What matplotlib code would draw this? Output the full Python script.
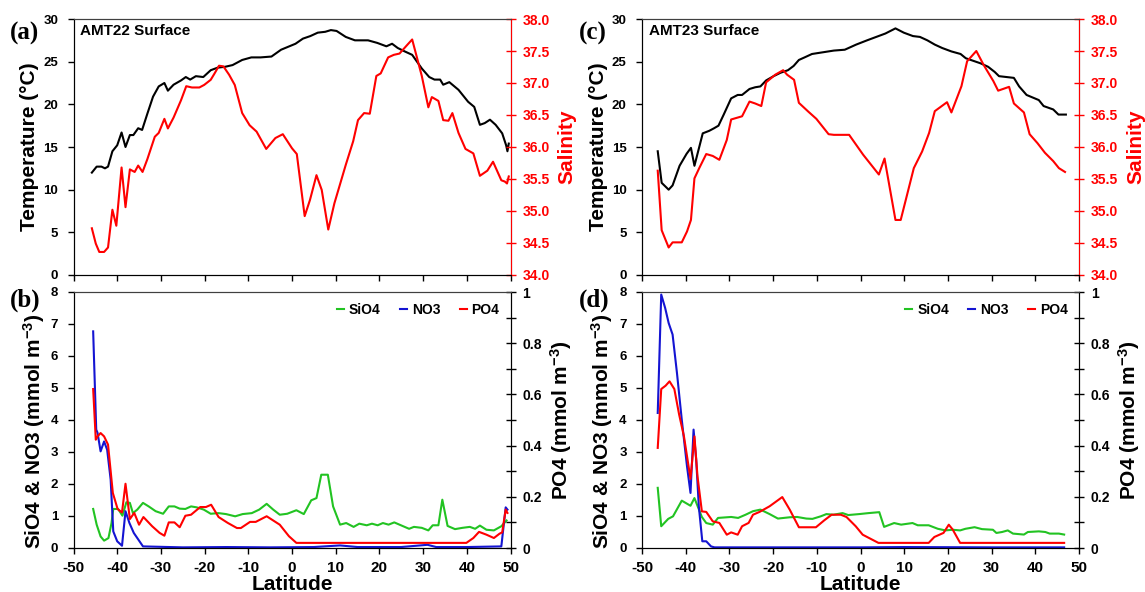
import matplotlib
matplotlib.use("Agg")
import matplotlib.pyplot as plt
from matplotlib.ticker import MultipleLocator, FormatStrFormatter

plt.rcParams['font.family'] = ['Liberation Sans', 'DejaVu Sans']
plt.rcParams['font.weight'] = 'bold'
plt.rcParams['mathtext.fontset'] = 'custom'
plt.rcParams['mathtext.rm'] = 'Liberation Sans:bold'
plt.rcParams['mathtext.default'] = 'rm'
plt.rcParams['axes.unicode_minus'] = False

RED = '#ff0000'
GREEN = '#22c322'
BLUE = '#1414d2'

# ---- AMT22 surface: temperature / salinity ----
lat22_t = [-45.8, -44.7, -43.6, -42.8, -42.1, -41.1, -40.0, -39.0, -38.1, -37.1, -36.3, -35.2, -34.3,
           -33.1, -31.8, -30.5, -29.2, -28.4, -27.1, -25.4, -24.3, -23.3, -22.0, -20.3, -18.6, -17.0,
           -15.3, -13.6, -11.4, -9.3, -7.2, -4.7, -2.5, 0.8, 2.5, 4.2, 5.9, 7.6, 8.9, 10.2, 12.3, 14.4,
           17.4, 19.5, 21.6, 22.9, 24.2, 25.8, 27.5, 29.7, 31.4, 32.6, 33.9, 34.6, 36.0, 38.1, 40.3,
           41.7, 43.0, 44.1, 45.3, 46.6, 48.1, 49.0, 49.3, 49.6]
temp22 = [12.0, 12.7, 12.7, 12.5, 12.7, 14.5, 15.2, 16.7, 15.0, 16.4, 16.4, 17.2, 17.0,
          18.9, 20.9, 22.1, 22.5, 21.6, 22.3, 22.8, 23.2, 22.9, 23.3, 23.2, 24.0, 24.3,
          24.4, 24.6, 25.2, 25.5, 25.5, 25.6, 26.4, 27.1, 27.7, 28.0, 28.4, 28.5, 28.7, 28.6, 27.9, 27.5,
          27.5, 27.2, 26.8, 27.1, 26.6, 26.2, 25.8, 24.2, 23.2, 22.9, 22.9, 22.3, 22.6, 21.7, 20.3,
          19.7, 17.6, 17.8, 18.2, 17.6, 16.6, 15.2, 14.5, 15.4]

lat22_s = [-45.8, -44.9, -44.1, -43.0, -42.1, -41.1, -40.2, -39.0, -38.1, -37.1, -36.0, -35.2, -34.2,
           -33.1, -31.4, -30.5, -29.2, -28.4, -27.1, -25.4, -24.2, -22.9, -21.2, -20.1, -18.6, -17.8,
           -16.7, -15.7, -14.4, -13.1, -11.4, -9.7, -8.1, -5.9, -3.8, -2.1, 0.0, 1.1, 2.9, 4.1, 5.6,
           6.8, 8.3, 9.7, 12.3, 14.0, 15.1, 16.5, 17.8, 19.3, 20.3, 22.0, 23.3, 24.6, 26.3, 27.5,
           29.7, 31.2, 32.0, 33.5, 34.6, 35.8, 36.7, 38.1, 39.7, 41.5, 43.0, 44.7, 46.0, 47.9, 48.7,
           49.2, 49.6]
sal22 = [34.73, 34.49, 34.36, 34.36, 34.43, 35.02, 34.77, 35.68, 35.06, 35.65, 35.61, 35.71, 35.61,
         35.81, 36.16, 36.22, 36.44, 36.29, 36.46, 36.73, 36.95, 36.93, 36.93, 36.97, 37.05, 37.14,
         37.27, 37.26, 37.13, 36.97, 36.53, 36.34, 36.24, 35.97, 36.14, 36.20, 35.98, 35.89, 34.92, 35.17, 35.56,
         35.33, 34.71, 35.12, 35.72, 36.09, 36.42, 36.53, 36.52, 37.11, 37.15, 37.40, 37.44, 37.46, 37.59, 37.68,
         37.11, 36.62, 36.78, 36.72, 36.42, 36.41, 36.53, 36.22, 35.97, 35.90, 35.55, 35.63, 35.77, 35.48, 35.46,
         35.43, 35.54]

# ---- AMT22 surface: nutrients ----
lat22_no3 = [-45.5, -44.8, -44.5, -43.8, -43.0, -42.3, -41.5, -40.9, -40.0, -38.9, -38.1, -37.2, -36.2,
             -34.1, -25.0, -15.0, -5.0, 5.0, 11.0, 15.0, 25.0, 31.0, 33.0, 40.0, 47.9, 48.9, 49.3]
no3_22 = [6.77, 3.70, 3.60, 3.02, 3.33, 3.07, 2.14, 0.52, 0.21, 0.07, 1.15, 0.78, 0.47,
          0.05, 0.02, 0.03, 0.02, 0.03, 0.08, 0.03, 0.03, 0.10, 0.03, 0.03, 0.05, 1.27, 1.20]

lat22_po4 = [-45.5, -44.9, -44.5, -43.8, -43.0, -42.1, -41.0, -39.9, -38.9, -38.1, -37.1, -36.1, -35.0,
             -34.0, -32.0, -30.3, -29.2, -28.2, -26.9, -25.7, -24.4, -23.1, -21.0, -19.7, -18.5, -16.8,
             -14.7, -12.6, -11.7, -9.6, -8.3, -5.8, -2.8, -0.7, 1.0, 39.9, 41.5, 42.8, 44.5, 46.2,
             47.5, 48.1, 48.9, 49.3]
po4_22 = [0.621, 0.423, 0.436, 0.449, 0.436, 0.404, 0.215, 0.152, 0.139, 0.251, 0.113, 0.137, 0.091,
          0.121, 0.085, 0.059, 0.048, 0.100, 0.100, 0.081, 0.126, 0.130, 0.160, 0.160, 0.169, 0.121,
          0.098, 0.078, 0.078, 0.102, 0.102, 0.124, 0.091, 0.046, 0.020, 0.020, 0.039, 0.063, 0.052, 0.039,
          0.056, 0.061, 0.150, 0.137]

lat22_si = [-45.5, -44.7, -43.8, -43.0, -42.0, -41.3, -40.9, -39.8, -38.8, -37.9, -37.1, -36.4, -35.4,
            -34.1, -32.8, -31.2, -29.5, -28.2, -26.9, -25.7, -24.4, -23.1, -21.8, -20.2, -18.6, -16.8,
            -15.1, -13.0, -11.3, -9.2, -7.5, -5.8, -4.3, -2.8, -1.1, 1.0, 2.7, 4.4, 5.6, 6.7, 8.2,
            9.4, 11.0, 12.4, 14.1, 15.4, 17.1, 18.3, 19.6, 20.8, 22.1, 23.4, 25.1, 26.8, 27.9, 29.7,
            31.2, 32.2, 33.5, 34.4, 35.6, 37.3, 39.0, 40.7, 41.9, 43.0, 44.5, 46.2, 47.9, 49.1]
si22 = [1.22, 0.73, 0.36, 0.23, 0.31, 0.78, 1.22, 1.22, 1.01, 1.43, 1.41, 1.09, 1.20,
        1.41, 1.30, 1.15, 1.07, 1.30, 1.30, 1.23, 1.22, 1.30, 1.27, 1.20, 1.07, 1.09,
        1.06, 0.99, 1.06, 1.09, 1.20, 1.38, 1.20, 1.04, 1.07, 1.18, 1.06, 1.49, 1.56, 2.29, 2.29,
        1.30, 0.73, 0.78, 0.66, 0.76, 0.71, 0.76, 0.71, 0.78, 0.73, 0.80, 0.70, 0.60, 0.66, 0.63,
        0.55, 0.71, 0.71, 1.51, 0.69, 0.59, 0.63, 0.66, 0.60, 0.70, 0.57, 0.55, 0.68, 0.86]

# ---- AMT23 surface: temperature / salinity ----
lat23_t = [-46.4, -45.5, -43.9, -43.0, -41.4, -39.8, -38.8, -38.0, -36.1, -34.6, -33.5, -32.5, -31.3,
           -29.6, -28.1, -27.1, -25.4, -24.1, -22.9, -21.6, -19.9, -18.3, -16.6, -15.3, -14.1, -12.8,
           -11.1, -8.6, -6.1, -3.6, -1.0, 1.5, 3.6, 5.7, 8.0, 9.9, 12.0, 13.6, 15.3, 17.0, 18.7, 20.8,
           22.9, 24.1, 25.8, 27.5, 29.2, 30.7, 31.7, 33.4, 35.1, 36.3, 38.0, 39.4, 40.8, 41.9, 44.1,
           45.3, 47.0]
temp23 = [14.5, 10.8, 10.0, 10.5, 12.8, 14.2, 14.9, 12.8, 16.6, 16.9, 17.2, 17.5, 18.8,
          20.7, 21.1, 21.1, 21.8, 22.0, 22.1, 22.8, 23.3, 23.7, 24.0, 24.5, 25.2, 25.5,
          25.9, 26.1, 26.3, 26.4, 27.0, 27.5, 27.9, 28.3, 28.9, 28.4, 28.0, 27.9, 27.5, 27.0, 26.6, 26.2,
          25.9, 25.4, 25.1, 24.8, 24.4, 23.8, 23.3, 23.2, 23.1, 22.1, 21.1, 20.8, 20.5, 19.8, 19.4,
          18.8, 18.8]

lat23_s = [-46.4, -45.5, -43.9, -43.0, -40.9, -39.7, -38.8, -38.0, -36.9, -35.3, -33.8, -32.3, -30.6,
           -29.6, -27.1, -25.4, -24.1, -22.7, -21.6, -19.5, -17.7, -16.8, -15.2, -14.1, -11.9, -10.1,
           -7.3, -6.1, -2.6, 0.6, 4.2, 5.5, 8.0, 9.2, 12.2, 14.1, 15.7, 17.0, 19.8, 20.8, 23.1, 24.4,
           26.5, 28.2, 30.4, 31.5, 34.0, 35.1, 37.4, 38.7, 40.5, 42.2, 44.1, 45.4, 46.8]
sal23 = [35.63, 34.70, 34.43, 34.51, 34.51, 34.68, 34.86, 35.51, 35.67, 35.89, 35.86, 35.80, 36.11,
         36.43, 36.48, 36.71, 36.68, 36.64, 37.01, 37.13, 37.20, 37.13, 37.05, 36.69, 36.55, 36.44,
         36.20, 36.19, 36.19, 35.88, 35.57, 35.82, 34.86, 34.86, 35.67, 35.93, 36.22, 36.56, 36.70, 36.54, 36.95, 37.34,
         37.50, 37.28, 37.03, 36.88, 36.94, 36.68, 36.54, 36.20, 36.06, 35.91, 35.78, 35.67, 35.61]

# ---- AMT23 surface: nutrients ----
lat23_no3 = [-46.4, -45.6, -44.7, -43.9, -43.0, -42.0, -40.9, -39.7, -38.9, -38.2, -37.6, -37.0, -36.2,
             -35.3, -34.2, -33.4, -20.0, 0.0, 10.0, 30.0, 46.6]
no3_23 = [4.22, 7.92, 7.50, 7.03, 6.67, 5.47, 4.01, 2.55, 1.72, 3.70, 2.76, 1.30, 0.21,
          0.21, 0.05, 0.02, 0.02, 0.02, 0.03, 0.02, 0.02]

lat23_po4 = [-46.4, -45.6, -44.6, -43.7, -42.6, -41.5, -40.4, -38.9, -38.0, -37.3, -36.3, -35.3, -33.8,
             -32.3, -30.6, -29.6, -28.1, -27.1, -25.6, -24.6, -23.1, -20.8, -17.9, -16.2, -14.1, -12.0,
             -10.2, -8.3, -6.6, -4.5, -3.2, -1.1, 0.5, 4.1, 15.6, 16.9, 19.0, 20.2, 21.1, 22.8, 46.6]
po4_23 = [0.391, 0.621, 0.634, 0.651, 0.621, 0.521, 0.436, 0.270, 0.436, 0.280, 0.143, 0.141, 0.104,
          0.098, 0.052, 0.061, 0.052, 0.085, 0.098, 0.130, 0.141, 0.163, 0.199, 0.150, 0.081, 0.081,
          0.081, 0.108, 0.130, 0.130, 0.121, 0.085, 0.052, 0.020, 0.020, 0.043, 0.059, 0.091, 0.072, 0.020, 0.020]

lat23_si = [-46.4, -45.6, -44.0, -42.9, -40.9, -38.9, -38.0, -36.3, -35.3, -33.8, -32.6, -29.6, -28.0,
            -26.3, -24.6, -22.9, -20.8, -18.9, -16.2, -14.5, -12.4, -11.0, -9.1, -7.8, -6.2, -4.1,
            -2.8, -0.3, 1.8, 4.3, 5.4, 7.7, 9.3, 11.9, 13.1, 15.6, 17.7, 19.4, 21.1, 22.8, 24.0,
            26.1, 27.8, 30.3, 31.1, 32.4, 33.7, 34.9, 37.4, 38.3, 40.8, 42.3, 43.3, 45.4, 46.6]
si23 = [1.88, 0.68, 0.91, 0.99, 1.48, 1.32, 1.56, 0.97, 0.78, 0.73, 0.94, 0.97, 0.94,
        1.04, 1.15, 1.20, 1.06, 0.92, 0.96, 0.97, 0.92, 0.91, 0.99, 1.06, 1.04, 1.09,
        1.03, 1.06, 1.09, 1.12, 0.66, 0.78, 0.73, 0.78, 0.71, 0.71, 0.60, 0.55, 0.57, 0.55, 0.60,
        0.65, 0.59, 0.57, 0.47, 0.50, 0.55, 0.45, 0.42, 0.50, 0.52, 0.50, 0.45, 0.45, 0.42]

LW = 1.5
fig = plt.figure(figsize=(11.45, 5.92), dpi=100)

W, H = 437 / 1145, 256 / 592
lefts = [73.5 / 1145, 642 / 1145]
bottom_top = 1 - 275 / 592
bottom_bot = 1 - 548 / 592
SERIF = ['Liberation Serif', 'DejaVu Serif']


def style_left(ax):
    ax.tick_params(axis='x', direction='out', length=4, width=1, labelsize=11, pad=5)
    ax.tick_params(axis='y', direction='out', length=4, width=1, labelsize=9.5, pad=7)
    for t in ax.get_xticklabels() + ax.get_yticklabels():
        t.set_fontweight('bold')
    ax.spines['top'].set_color('#404040')


def top_panel(left, lat_t, temp, lat_s, sal, title, tag):
    ax = fig.add_axes([left, bottom_top, W, H])
    ax.plot(lat_t, temp, color='black', lw=LW)
    ax.set_xlim(-50, 50)
    ax.set_ylim(0, 30)
    ax.xaxis.set_major_locator(MultipleLocator(10))
    ax.yaxis.set_major_locator(MultipleLocator(5))
    style_left(ax)
    ax.tick_params(axis='x', labelbottom=False)
    ax.set_ylabel('Temperature (°C)', fontsize=15, fontweight='bold', labelpad=3)
    ax.text(0.016, 0.953, title, transform=ax.transAxes, fontsize=11, fontweight='bold',
            va='center', ha='left')
    ax2 = ax.twinx()
    ax2.plot(lat_s, sal, color=RED, lw=LW)
    ax2.set_ylim(34, 38)
    ax2.yaxis.set_major_locator(MultipleLocator(0.5))
    ax2.yaxis.set_major_formatter(FormatStrFormatter('%.1f'))
    ax2.tick_params(axis='y', direction='inout', length=7, width=1, colors=RED, labelsize=10, pad=5)
    for t in ax2.get_yticklabels():
        t.set_fontweight('bold')
    ax2.spines['right'].set_color(RED)
    ax2.spines['top'].set_color('#404040')
    ax2.set_ylabel('Salinity', fontsize=15, fontweight='bold', color=RED, labelpad=6)
    fig.text(left - 0.0555, bottom_top + H - 0.0245, tag, fontsize=18, fontweight='bold',
             family=SERIF, ha='left', va='center')
    return ax


def bottom_panel(left, lat_si, si, lat_no3, no3, lat_po4, po4, tag):
    ax = fig.add_axes([left, bottom_bot, W, H])
    l1, = ax.plot(lat_si, si, color=GREEN, lw=LW, label='SiO4')
    l2, = ax.plot(lat_no3, no3, color=BLUE, lw=LW, label='NO3')
    ax.set_xlim(-50, 50)
    ax.set_ylim(0, 8)
    ax.xaxis.set_major_locator(MultipleLocator(10))
    ax.yaxis.set_major_locator(MultipleLocator(1))
    style_left(ax)
    ax.set_xlabel('Latitude', fontsize=15, fontweight='bold', labelpad=0.5)
    ax.set_ylabel('SiO4 & NO3 (mmol m$^{-3}$)', fontsize=15, fontweight='bold', labelpad=3)
    ax.yaxis.label.set_y(0.455)
    ax2 = ax.twinx()
    l3, = ax2.plot(lat_po4, po4, color=RED, lw=LW, label='PO4')
    ax2.set_ylim(0, 1)
    ax2.yaxis.set_major_locator(MultipleLocator(0.2))
    ax2.yaxis.set_minor_locator(MultipleLocator(0.1))
    ax2.yaxis.set_major_formatter(plt.FuncFormatter(lambda v, p: '%g' % round(v, 1)))
    ax2.tick_params(axis='y', which='both', direction='inout', length=7, width=1, labelsize=10, pad=5)
    for t in ax2.get_yticklabels():
        t.set_fontweight('bold')
    ax2.spines['top'].set_color('#404040')
    ax2.set_ylabel('PO4 (mmol m$^{-3}$)', fontsize=15, fontweight='bold', labelpad=4.5)
    leg = ax2.legend(handles=[l1, l2, l3], loc='upper right', ncol=3, frameon=False,
                     fontsize=10, handlelength=0.5, handletextpad=0.35, columnspacing=1.4,
                     borderaxespad=0.4)
    for t in leg.get_texts():
        t.set_fontweight('bold')
    fig.text(left - 0.0555, bottom_bot + H - 0.014, tag, fontsize=18, fontweight='bold',
             family=SERIF, ha='left', va='center')
    return ax


top_panel(lefts[0], lat22_t, temp22, lat22_s, sal22, 'AMT22 Surface', '(a)')
bottom_panel(lefts[0], lat22_si, si22, lat22_no3, no3_22, lat22_po4, po4_22, '(b)')
top_panel(lefts[1], lat23_t, temp23, lat23_s, sal23, 'AMT23 Surface', '(c)')
bottom_panel(lefts[1], lat23_si, si23, lat23_no3, no3_23, lat23_po4, po4_23, '(d)')

fig.savefig('out.png', dpi=100)
